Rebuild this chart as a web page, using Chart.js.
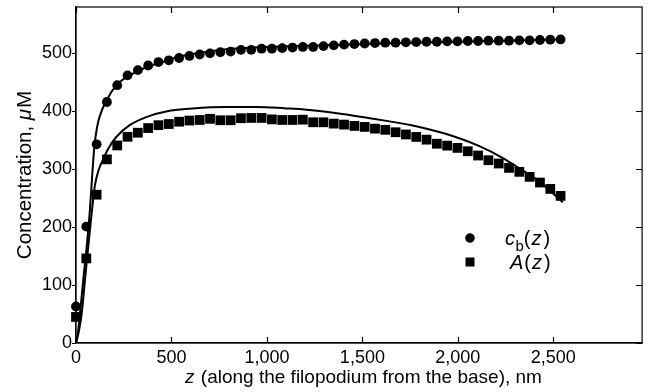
<!DOCTYPE html>
<html><head><meta charset="utf-8">
<script src="https://cdn.jsdelivr.net/npm/chart.js@4/dist/chart.umd.min.js"></script>
<style>html,body{margin:0;padding:0;background:#fff;}#wrap{width:649px;height:392px;}</style>
</head><body><div id="wrap"><canvas id="c" width="649" height="392" style="width:649px;height:392px"></canvas></div>
<script>
// ---- data ----
const xTicks = [0, 500, 1000, 1500, 2000, 2500];
const yTicks = [0, 100, 200, 300, 400, 500];
const zPoints = [0, 54, 108, 162, 216, 270, 324, 378, 432, 486, 540, 594, 648, 702, 756, 810, 864, 918, 972, 1026, 1080, 1134, 1188, 1242, 1296, 1350, 1404, 1458, 1512, 1566, 1620, 1674, 1728, 1782, 1836, 1890, 1944, 1998, 2052, 2106, 2160, 2214, 2268, 2322, 2376, 2430, 2484, 2538];
const cbValues = [63, 201, 343, 416, 445, 462, 471, 479, 485, 488, 492, 495.5, 498, 500, 502, 503, 506, 506, 508, 508, 509, 510, 511, 511, 512.5, 513.8, 515, 516, 517, 517.8, 518.4, 518.4, 519, 519.5, 520, 520, 520.7, 520.7, 521.3, 521.3, 521.8, 521.8, 521.8, 522.4, 522.4, 523, 523.6, 524];
const aValues = [45, 146, 256, 317, 341, 356, 363, 371, 376, 378, 382, 384, 385, 387, 384.5, 384.5, 388, 388.5, 388.5, 386, 385, 385, 385.5, 381, 381, 378.7, 377, 374.7, 373, 370, 368, 363.8, 360, 355.7, 351, 344, 340.7, 336.8, 331, 323.6, 315.5, 309.8, 302.3, 295.4, 286.8, 277, 266, 254];
const zFitCb = [0, 10, 20, 38, 56, 72, 84, 96, 110, 125, 160, 212, 281, 368, 455, 524, 611, 785, 1000, 1300, 1600, 2000, 2300, 2540];
const cbFit = [0, 18, 48, 109, 166, 226, 285, 338, 372, 392, 419, 445, 462, 476, 485, 493, 499, 507, 511, 514, 517, 520, 522, 524];
const zFitA = [0, 15, 30, 47, 64, 82, 99, 120, 142, 168, 212, 281, 368, 490, 611, 785, 950, 1100, 1184, 1358, 1531, 1635, 1757, 1931, 2104, 2243, 2295, 2417, 2550];
const aFit = [0, 20, 51, 109, 166, 224, 272, 300, 317, 335, 356, 376, 390, 401, 405, 407.5, 407.5, 405, 403.4, 397, 388.5, 383, 376, 361.5, 341, 318, 307, 281, 243];
const xMax = 2965, yMax = 580;

const FONT = '"Liberation Sans", Arial, Helvetica, sans-serif';
const pts = (xs, ys) => xs.map((v, i) => ({x: v, y: ys[i]}));

function drawRuns(ctx, runs, x, y, align, size) {
  let total = 0;
  const m = runs.map(r => {
    const s = r.size || size;
    ctx.font = (r.i ? 'italic ' : '') + s + 'px ' + FONT;
    const w = ctx.measureText(r.t).width + (r.gap || 0);
    total += w;
    return {r, s, w};
  });
  let cx = align === 'center' ? x - total / 2 : x;
  m.forEach(({r, s, w}) => {
    ctx.font = (r.i ? 'italic ' : '') + s + 'px ' + FONT;
    ctx.fillText(r.t, cx, y + (r.dy || 0));
    cx += w;
  });
}

const framePlugin = {
  id: 'frame',
  afterDraw(chart) {
    const {ctx, chartArea: a, scales: {x, y}} = chart;
    ctx.save();
    ctx.strokeStyle = '#000';
    ctx.lineWidth = 1.2;
    ctx.strokeRect(a.left, a.top, a.right - a.left, a.bottom - a.top);
    ctx.beginPath();
    xTicks.forEach(v => {
      const px = Math.round(x.getPixelForValue(v)) + 0.5;
      ctx.moveTo(px, a.bottom); ctx.lineTo(px, a.bottom - 6);
      ctx.moveTo(px, a.top); ctx.lineTo(px, a.top + 6);
    });
    yTicks.forEach(v => {
      const py = Math.round(y.getPixelForValue(v)) + 0.5;
      ctx.moveTo(a.left, py); ctx.lineTo(a.left - 4, py);
      ctx.moveTo(a.right, py); ctx.lineTo(a.right - 6, py);
    });
    ctx.stroke();
    ctx.fillStyle = '#000';
    ctx.textBaseline = 'alphabetic';
    ctx.textAlign = 'left';
    // x title
    drawRuns(ctx, [{t: 'z', i: true, gap: 1}, {t: ' (along the filopodium from the base), nm'}], 363.5, 383, 'center', 19);
    // y title
    ctx.save();
    ctx.translate(31, 175);
    ctx.rotate(-Math.PI / 2);
    drawRuns(ctx, [{t: 'Concentration, '}, {t: 'μ', i: true, gap: 1}, {t: 'M'}], 0, 0, 'center', 20.5);
    ctx.restore();
    // legend
    Chart.helpers.drawPoint(ctx, {pointStyle: 'circle', radius: 4.6, borderWidth: 0}, 470, 238);
    ctx.fill();
    ctx.fillRect(465.5, 257.5, 9, 9);
    drawRuns(ctx, [{t: 'c', i: true, gap: 0.5}, {t: 'b', size: 15, dy: 6}, {t: '(', gap: 1}, {t: 'z', i: true, gap: 2}, {t: ')'}], 505, 245, 'left', 20);
    drawRuns(ctx, [{t: 'A', i: true, gap: 1}, {t: '(', gap: 1}, {t: 'z', i: true, gap: 2}, {t: ')'}], 510, 269, 'left', 20);
    ctx.restore();
  }
};

const tickFont = {family: FONT, size: 18};
new Chart(document.getElementById('c'), {
  type: 'scatter',
  data: {
    datasets: [
      {label: 'cb fit', data: pts(zFitCb, cbFit), showLine: true, pointRadius: 0, borderColor: '#000', borderWidth: 2, cubicInterpolationMode: 'monotone', fill: false},
      {label: 'A fit', data: pts(zFitA, aFit), showLine: true, pointRadius: 0, borderColor: '#000', borderWidth: 2, cubicInterpolationMode: 'monotone', fill: false},
      {label: 'cb(z)', data: pts(zPoints, cbValues), pointStyle: 'circle', pointRadius: 4.9, backgroundColor: '#000', borderColor: '#000', borderWidth: 0, clip: false},
      {label: 'A(z)', data: pts(zPoints, aValues), pointStyle: 'rect', pointRadius: 6.9, backgroundColor: '#000', borderColor: '#000', borderWidth: 0, clip: false}
    ]
  },
  options: {
    responsive: false,
    animation: false,
    devicePixelRatio: 1,
    layout: {padding: {top: 7, right: 3, left: 0, bottom: 0}},
    plugins: {legend: {display: false}, tooltip: {enabled: false}},
    elements: {point: {hoverRadius: 0}},
    scales: {
      x: {
        type: 'linear', min: 0, max: xMax,
        afterBuildTicks: s => { s.ticks = xTicks.map(v => ({value: v})); },
        afterFit: s => { s.height = 49; s.paddingLeft = 0; s.paddingRight = 0; },
        ticks: {font: tickFont, color: '#000', padding: 4, maxRotation: 0, autoSkip: false, callback: v => v.toLocaleString('en-US')},
        grid: {display: false, drawTicks: false},
        border: {display: true, color: '#000', width: 1.2}
      },
      y: {
        type: 'linear', min: 0, max: yMax,
        afterBuildTicks: s => { s.ticks = yTicks.map(v => ({value: v})); },
        afterFit: s => { s.width = 76; s.paddingTop = 0; s.paddingBottom = 0; },
        ticks: {font: tickFont, color: '#000', padding: 4, autoSkip: false},
        grid: {display: false, drawTicks: false},
        border: {display: true, color: '#000', width: 1.2}
      }
    }
  },
  plugins: [framePlugin]
});
</script></body></html>
